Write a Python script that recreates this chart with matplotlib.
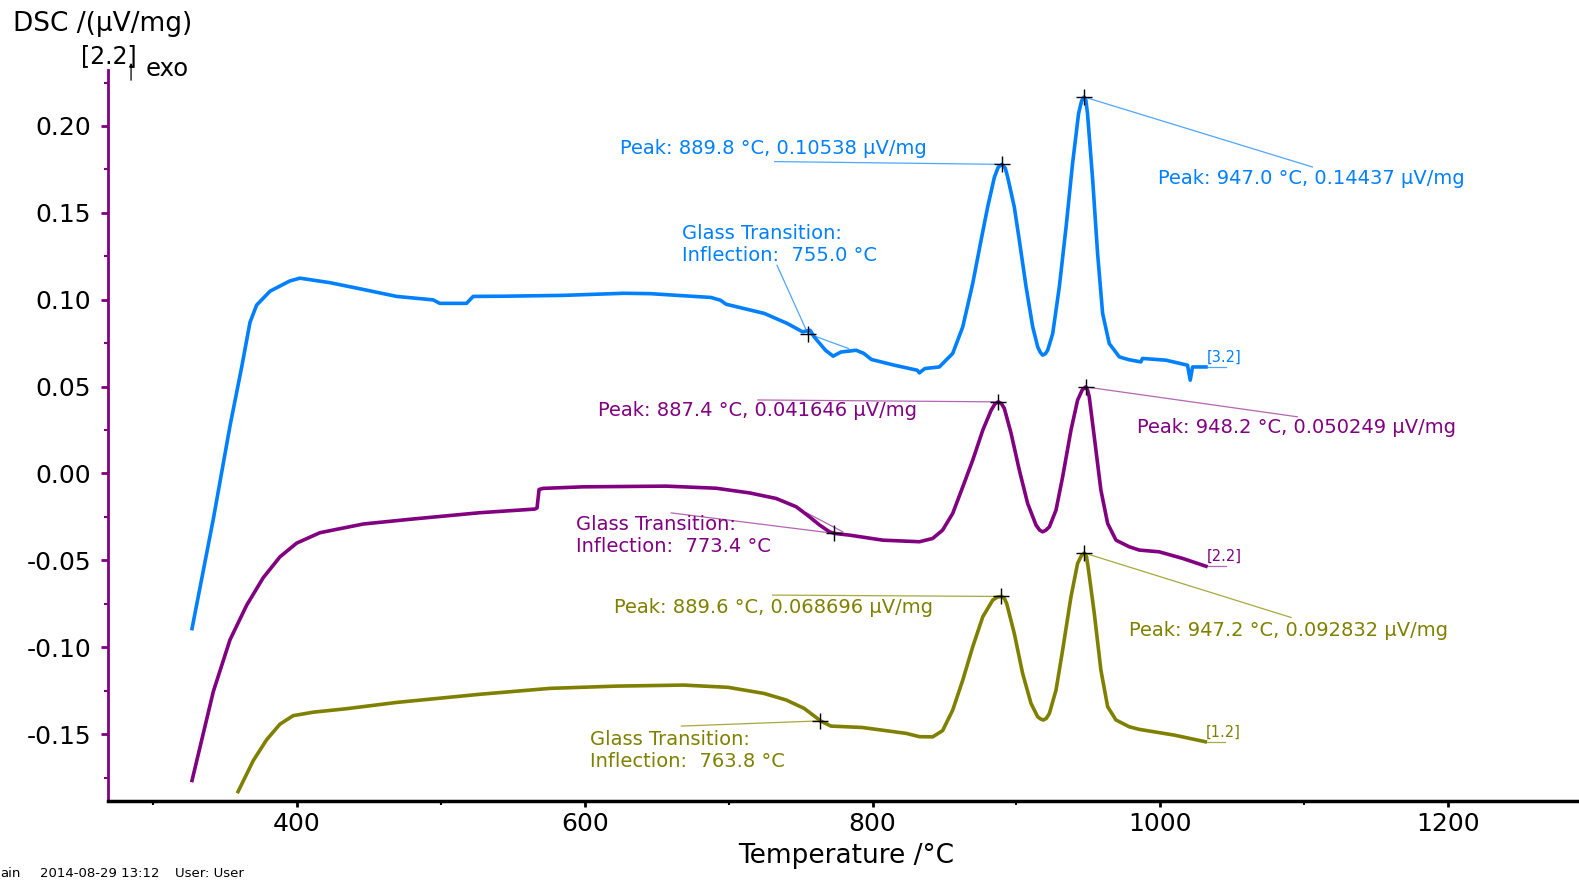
import matplotlib
matplotlib.use("Agg")
import matplotlib.pyplot as plt
from matplotlib.ticker import MultipleLocator, FormatStrFormatter

plt.rcParams['axes.unicode_minus'] = False
plt.rcParams['font.family'] = ['DejaVu Sans']

# ---- data (temperature in C, DSC in uV/mg, shifted curves) ----
blue_t = [327, 341.8, 353.4, 361.5, 367.3, 371.9, 381.2, 395, 402, 422.9, 446, 469.2,
          494.6, 499.2, 517.8, 522.4, 543, 585, 627, 645.1, 687.6, 694.3, 698.2, 724.8,
          740.8, 751.4, 756.6, 759.4, 767.3, 772.6, 778, 788.6, 793.9, 799.2, 815.2,
          831.1, 832.5, 836.4, 846.4, 855.7, 862.7, 869.6, 875.4, 880.0, 884.7, 887.3,
          889.8, 892.2, 893.9, 898.5, 902.0, 906.7, 911.3, 914.8, 916.6, 918.2, 920.0,
          921.7, 925.2, 929.8, 934.5, 939.0, 943.2, 945.3, 947.0, 948.2, 949.4, 953.0,
          956.4, 959.9, 964.5, 971.5, 978, 986.5, 987.6, 1003.9, 1018.9, 1020.8, 1022.4,
          1031.7]
blue_dsc = [-0.0893, -0.0262, 0.0274, 0.0612, 0.0870, 0.0969, 0.1049, 0.1108, 0.1124,
            0.1098, 0.1059, 0.1019, 0.0999, 0.0979, 0.0979, 0.1019, 0.1020, 0.1025,
            0.1037, 0.1035, 0.1013, 0.0997, 0.0974, 0.0921, 0.0863, 0.0815, 0.0824,
            0.0786, 0.0709, 0.0675, 0.0699, 0.0709, 0.0691, 0.0656, 0.0623, 0.0594,
            0.0579, 0.0604, 0.0613, 0.0691, 0.0844, 0.1093, 0.1342, 0.1534, 0.1706,
            0.1762, 0.1779, 0.1758, 0.1706, 0.1534, 0.1342, 0.1074, 0.0844, 0.0728,
            0.0697, 0.0681, 0.0688, 0.0709, 0.0805, 0.1074, 0.1419, 0.1783, 0.2072,
            0.2145, 0.2167, 0.2150, 0.2072, 0.1688, 0.1266, 0.0921, 0.0748, 0.0671,
            0.0655, 0.0642, 0.0662, 0.0652, 0.0623, 0.0537, 0.0613, 0.0613]

purple_t = [327, 341.8, 353.4, 365, 376.5, 388.1, 399.7, 415.9, 446, 480.7, 527, 565.2,
            566.8, 568.2, 571, 598.7, 656.6, 691.2, 714.5, 733, 747, 756.2, 763.2, 770.1,
            773.4, 784, 807.1, 832.6, 841.8, 848.7, 855.7, 862.7, 869.6, 876.6, 882.4,
            885.0, 887.4, 889.6, 891.6, 896.3, 902, 907.8, 913.6, 916.0, 918.2, 920.4,
            922.9, 927.5, 932.1, 937.9, 942.5, 945.8, 948.2, 949.4, 950.6, 954.1, 958.7,
            963.4, 969.2, 978.4, 985.4, 999.2, 1015.5, 1031.7]
purple_dsc = [-0.1767, -0.1255, -0.0957, -0.0758, -0.0600, -0.0480, -0.0401, -0.0341,
              -0.0291, -0.0262, -0.0226, -0.0205, -0.0199, -0.0092, -0.0086, -0.0077,
              -0.0073, -0.0085, -0.0112, -0.0144, -0.0192, -0.0250, -0.0297, -0.0336,
              -0.0345, -0.0355, -0.0384, -0.0393, -0.0374, -0.0326, -0.0230, -0.0077,
              0.0076, 0.0249, 0.0364, 0.0400, 0.0412, 0.0402, 0.0374, 0.0230, 0.0019,
              -0.0173, -0.0297, -0.0325, -0.0336, -0.0327, -0.0307, -0.0211, -0.0020,
              0.0249, 0.0422, 0.0482, 0.0498, 0.0480, 0.0441, 0.0210, -0.0096, -0.0288,
              -0.0384, -0.0422, -0.0441, -0.0451, -0.0489, -0.0534]

olive_t = [359, 369.6, 378.9, 388.1, 397.3, 411.3, 434.4, 469.1, 527, 575.7, 622.2,
           668.6, 699.6, 724.5, 740, 752.4, 761.7, 763.8, 771, 792.7, 823.3, 832.6,
           841.8, 848.7, 855.7, 862.7, 869.6, 876.6, 883.5, 886.7, 889.6, 891.6, 893.2,
           898.5, 904.3, 910.1, 914.7, 916.8, 918.7, 920.7, 922.9, 927.5, 932.1, 937.9,
           942.5, 945.2, 947.2, 948.7, 950.1, 954.1, 958.7, 963.4, 969.2, 978.4, 985.4,
           1009.7, 1031.2]
olive_dsc = [-0.1831, -0.1652, -0.1532, -0.1443, -0.1394, -0.1374, -0.1354, -0.1318,
             -0.1271, -0.1237, -0.1224, -0.1218, -0.1231, -0.1266, -0.1304, -0.1352,
             -0.1410, -0.1424, -0.1454, -0.1462, -0.1496, -0.1515, -0.1516, -0.1480,
             -0.1362, -0.1189, -0.0998, -0.0825, -0.0729, -0.0712, -0.0708, -0.0719,
             -0.0748, -0.0921, -0.1151, -0.1323, -0.1400, -0.1413, -0.1419, -0.1410,
             -0.1381, -0.1247, -0.1017, -0.0710, -0.0518, -0.0472, -0.0458, -0.0478,
             -0.0556, -0.0805, -0.1132, -0.1343, -0.1419, -0.1458, -0.1473, -0.1506,
             -0.1544]

curve_names = ['[3.2]', '[2.2]', '[1.2]']

# evaluated points: (temperature, displayed y) and the label printed by the software
peak_temps = [[889.8, 947.0], [887.4, 948.2], [889.6, 947.2]]
peak_marks = [[0.1779, 0.2167], [0.0412, 0.0498], [-0.0708, -0.0458]]
peak_values = [['0.10538', '0.14437'], ['0.041646', '0.050249'], ['0.068696', '0.092832']]
tg_temps = [755.0, 773.4, 763.8]
tg_marks = [0.0805, -0.0345, -0.1424]

blue = '#0080ff'
purple = '#800080'
olive = '#808000'
colors = [blue, purple, olive]
leader_colors = ['#4da6ff', '#b366b3', '#a8a840']

fig = plt.figure(figsize=(15.79, 8.83), dpi=100)
ax = fig.add_axes([0.0684, 0.0933, 0.9316, 0.8274])

for t, d, c in zip([blue_t, purple_t, olive_t], [blue_dsc, purple_dsc, olive_dsc], colors):
    ax.plot(t, d, color=c, lw=2.6, solid_joinstyle='round', zorder=3)

ax.set_xlim(268.6, 1291)
ax.set_ylim(-0.1883, 0.2322)

for s in ['top', 'right']:
    ax.spines[s].set_visible(False)
ax.spines['left'].set_color(purple)
ax.spines['left'].set_linewidth(2)
ax.spines['bottom'].set_linewidth(2.5)

ax.xaxis.set_major_locator(MultipleLocator(200))
ax.xaxis.set_minor_locator(MultipleLocator(100))
ax.yaxis.set_major_locator(MultipleLocator(0.05))
ax.yaxis.set_minor_locator(MultipleLocator(0.025))
ax.yaxis.set_major_formatter(FormatStrFormatter('%.2f'))
ax.tick_params(axis='y', which='major', length=5, width=2, color=purple, pad=7, labelsize=18)
ax.tick_params(axis='y', which='minor', length=3, width=1.5, color=purple)
ax.tick_params(axis='x', which='major', length=4.5, width=2, pad=4, labelsize=18)
ax.tick_params(axis='x', which='minor', length=3, width=1.5)

fs = 14
def leader(p0, p1, c):
    ax.plot([p0[0], p1[0]], [p0[1], p1[1]], color=c, lw=0.9, zorder=2)

def mark(x, y):
    ax.plot([x], [y], marker='+', color='black', ms=12, mew=1.0, zorder=5)

# peak labels (text spot, leader end)
peak_text_pos = [[(624.5, 0.1870), (998.5, 0.1700)],
                 [(609.1, 0.0362), (983.5, 0.0262)],
                 [(620.6, -0.0771), (978.3, -0.0906)]]
peak_leader_end = [[(732, 0.1795), (1105.7, 0.1764)],
                   [(720.3, 0.0423), (1095.3, 0.0326)],
                   [(730.6, -0.0700), (1090.9, -0.0829)]]
for i in range(3):
    for j in range(2):
        x, y = peak_temps[i][j], peak_marks[i][j]
        leader(peak_leader_end[i][j], (x, y), leader_colors[i])
        mark(x, y)
        tx, ty = peak_text_pos[i][j]
        ax.text(tx, ty, 'Peak: %.1f \u00b0C, %s \u00b5V/mg' % (x, peak_values[i][j]),
                color=colors[i], fontsize=fs, ha='left', va='center', zorder=4)

# glass transitions
tg_text_pos = [(667.7, 0.1315), (594.2, -0.0358), (603.9, -0.1592)]
tg_leader_start = [(733.6, 0.1198), (660.1, -0.0227), (667.1, -0.1454)]
tg_tangent = [[(755.0, 0.0805), (783.3, 0.0719)], [(753.8, -0.0225), (779.3, -0.0336)], None]
for i in range(3):
    x, y = tg_temps[i], tg_marks[i]
    leader(tg_leader_start[i], (x, y), leader_colors[i])
    if tg_tangent[i] is not None:
        leader(tg_tangent[i][0], tg_tangent[i][1], leader_colors[i])
    mark(x, y)
    tx, ty = tg_text_pos[i]
    ax.text(tx, ty, 'Glass Transition:\nInflection:  %.1f \u00b0C' % x, color=colors[i],
            fontsize=fs, ha='left', va='center', linespacing=1.2, zorder=4)

# curve tags at the end of each run
ends_t = [blue_t[-1], purple_t[-1], olive_t[-1]]
ends_y = [blue_dsc[-1], purple_dsc[-1], olive_dsc[-1]]
for i in range(3):
    ax.plot([ends_t[i], ends_t[i] + 14], [ends_y[i], ends_y[i]], color=leader_colors[i], lw=0.9)
    ax.text(ends_t[i] + 0.5, ends_y[i] + 0.0012, curve_names[i], color=colors[i],
            fontsize=10.5, ha='left', va='bottom')

# header and footer texts
fig.text(0.0082, 0.973, 'DSC /(\u00b5V/mg)', fontsize=19, ha='left', va='center')
fig.text(0.051, 0.936, '[2.2]', fontsize=17, ha='left', va='center')
fig.text(0.0925, 0.9215, 'exo', fontsize=17.5, ha='left', va='center')
fig.add_artist(matplotlib.patches.FancyArrowPatch((0.083, 0.906), (0.083, 0.932),
               transform=fig.transFigure, arrowstyle='-|>,head_length=2,head_width=1',
               color='black', lw=0.9, mutation_scale=1))
fig.text(0.536, 0.031, 'Temperature /\u00b0C', fontsize=19, ha='center', va='center')
fig.text(0.0, 0.0113, 'ain', fontsize=9.5, ha='left', va='center')
fig.text(0.0255, 0.0113, '2014-08-29 13:12', fontsize=9.5, ha='left', va='center')
fig.text(0.111, 0.0113, 'User: User', fontsize=9.5, ha='left', va='center')

fig.savefig('out.png', dpi=100)
